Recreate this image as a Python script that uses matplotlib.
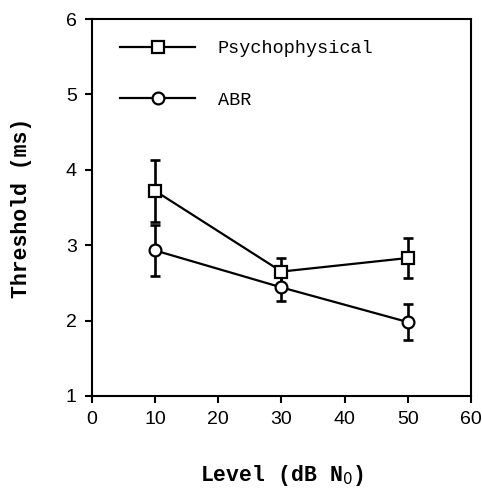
import matplotlib
matplotlib.use("Agg")
import matplotlib.pyplot as plt
import numpy as np

# data
level = [10, 30, 50]
psycho = [3.72, 2.65, 2.83]
psycho_err = [0.41, 0.18, 0.27]
abr = [2.93, 2.44, 1.98]
abr_err = [0.34, 0.18, 0.24]

xticks = [0, 10, 20, 30, 40, 50, 60]
yticks = [1, 2, 3, 4, 5, 6]

fig = plt.figure(figsize=(4.82, 4.90), dpi=100)
ax = fig.add_axes([0.191, 0.192, 0.786, 0.769])

lw = 1.6
# error bars under the markers
ax.errorbar(level, psycho, yerr=psycho_err, fmt='none', ecolor='black',
            elinewidth=lw + 0.3, capsize=3.6, capthick=lw + 0.3, zorder=1)
ax.errorbar(level, abr, yerr=abr_err, fmt='none', ecolor='black',
            elinewidth=lw + 0.3, capsize=3.6, capthick=lw + 0.3, zorder=1)

ax.plot(level, psycho, color='black', lw=lw, marker='s', markersize=8.5,
        markerfacecolor='white', markeredgecolor='black', markeredgewidth=lw,
        label='Psychophysical', zorder=3)
ax.plot(level, abr, color='black', lw=lw, marker='o', markersize=8.5,
        markerfacecolor='white', markeredgecolor='black', markeredgewidth=lw,
        label='ABR', zorder=3)

ax.set_xlim(0, 60)
ax.set_ylim(1, 6)
ax.set_xticks(xticks)
ax.set_yticks(yticks)
ax.tick_params(direction='out', length=5, width=1.5, labelsize=14, pad=6)
for lab in ax.get_xticklabels() + ax.get_yticklabels():
    lab.set_family('Liberation Sans')
for s in ax.spines.values():
    s.set_linewidth(1.5)

ax.set_xlabel(r'Level (dB N$_0$)', family='Liberation Mono', weight='bold',
              fontsize=15.5, labelpad=25)
ax.set_ylabel('Threshold (ms)', family='Liberation Mono', weight='bold',
              fontsize=15.5, labelpad=24)

leg = ax.legend(loc='upper left', bbox_to_anchor=(0.074, 0.944), frameon=False,
                prop={'family': 'Liberation Mono', 'size': 13.3},
                handlelength=4.05, handletextpad=1.24, labelspacing=1.86,
                borderpad=0, borderaxespad=0)

fig.savefig('out.png', dpi=100)
